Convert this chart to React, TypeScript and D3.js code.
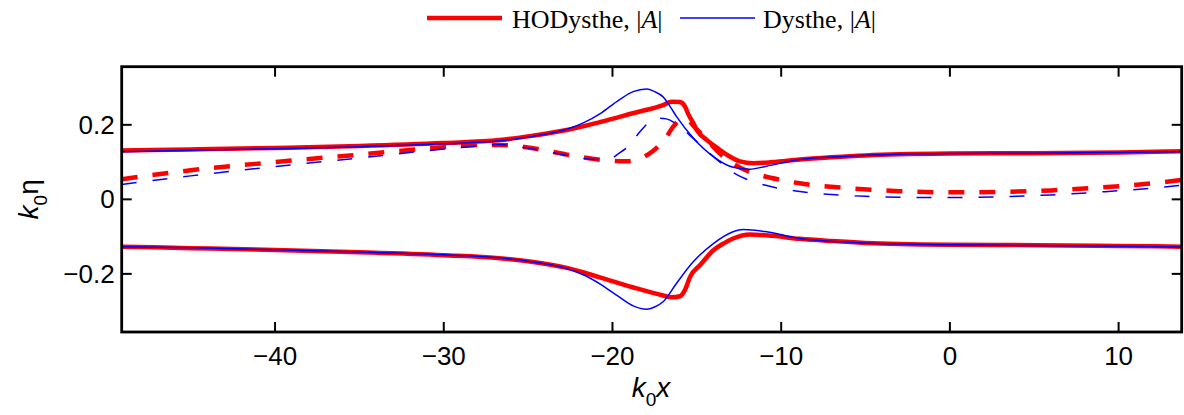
import React from 'react';
import * as d3 from 'd3';

// k0x positions and |A| envelopes
const hoUpperX = [-49.09, -45, -40, -35, -30, -26.7, -24.7, -22.7, -20.7, -18.8, -17.0, -16.5, -16.0, -15.7, -15.5, -15.2, -15.0, -14.4, -13.8, -13.2, -12.45, -11.66, -10.5, -8.9, -7, -5, -3, 0, 5, 10, 13.74];
const hoUpperY = [0.131, 0.134, 0.138, 0.143, 0.151, 0.159, 0.171, 0.186, 0.208, 0.231, 0.253, 0.262, 0.261, 0.249, 0.228, 0.204, 0.186, 0.159, 0.138, 0.119, 0.102, 0.097, 0.1, 0.107, 0.113, 0.118, 0.121, 0.123, 0.124, 0.126, 0.129];

const hoLowerX = [-49.09, -45, -40, -35, -30, -26.7, -24.7, -22.7, -20.7, -18.8, -17.0, -16.5, -16.0, -15.7, -15.4, -14.8, -14.0, -13.4, -12.85, -11.86, -10.5, -8.9, -7, -5, -3, 0, 5, 10, 13.74];
const hoLowerY = [-0.127, -0.131, -0.136, -0.142, -0.150, -0.158, -0.168, -0.184, -0.21, -0.236, -0.258, -0.263, -0.26, -0.243, -0.208, -0.176, -0.136, -0.118, -0.105, -0.094, -0.098, -0.106, -0.112, -0.117, -0.12, -0.122, -0.123, -0.125, -0.127];

const hoMeanX = [-49.09, -45, -40, -35, -30, -28, -26.7, -24.7, -22.7, -20.7, -19.2, -18.6, -17.6, -16.8, -16.4, -16.0, -15.6, -15.2, -14.5, -13.8, -13.0, -12.2, -11, -10, -8.9, -6, -3, 0, 3, 6, 9, 12, 13.74];
const hoMeanY = [0.054, 0.078, 0.1, 0.12, 0.14, 0.146, 0.146, 0.137, 0.12, 0.106, 0.102, 0.106, 0.13, 0.168, 0.195, 0.212, 0.215, 0.197, 0.165, 0.13, 0.1, 0.08, 0.062, 0.052, 0.043, 0.03, 0.022, 0.019, 0.02, 0.024, 0.032, 0.043, 0.052];

const dyUpperX = [-49.09, -45, -40, -35, -30, -26.7, -24.7, -22.7, -21.7, -20.7, -19.6, -18.77, -17.98, -17.5, -17.0, -16.6, -16.2, -15.2, -14.0, -12.85, -11.86, -10.87, -8.9, -6, -3, 0, 5, 10, 13.74];
const dyUpperY = [0.128, 0.132, 0.136, 0.141, 0.149, 0.157, 0.169, 0.188, 0.206, 0.231, 0.267, 0.289, 0.296, 0.289, 0.275, 0.25, 0.222, 0.164, 0.114, 0.086, 0.081, 0.089, 0.107, 0.116, 0.121, 0.123, 0.124, 0.126, 0.128];

const dyLowerX = [-49.09, -45, -40, -35, -30, -26.7, -24.7, -22.7, -21.7, -20.7, -19.6, -18.77, -17.98, -17.5, -17.0, -16.2, -15.2, -14.0, -12.85, -12.25, -10.87, -8.9, -6, -3, 0, 5, 10, 13.74];
const dyLowerY = [-0.127, -0.13, -0.135, -0.141, -0.149, -0.157, -0.168, -0.186, -0.203, -0.228, -0.262, -0.286, -0.295, -0.289, -0.275, -0.225, -0.167, -0.118, -0.087, -0.081, -0.087, -0.105, -0.115, -0.12, -0.122, -0.124, -0.126, -0.128];

const dyMeanX = [-49.09, -45, -40, -35, -30, -28, -26.7, -24.7, -22.7, -21, -20.2, -19.6, -19.0, -18.4, -17.8, -17.3, -16.8, -16.0, -15.2, -14.4, -13.5, -12.85, -12.05, -10.5, -8.9, -7, -5, -2, 0, 3, 6, 9, 12, 13.74];
const dyMeanY = [0.04, 0.063, 0.088, 0.111, 0.135, 0.143, 0.147, 0.135, 0.118, 0.107, 0.108, 0.124, 0.145, 0.18, 0.208, 0.218, 0.216, 0.195, 0.163, 0.13, 0.095, 0.072, 0.054, 0.033, 0.021, 0.013, 0.008, 0.005, 0.005, 0.007, 0.012, 0.02, 0.03, 0.038];

const xTicks = [-40, -30, -20, -10, 0, 10];
const yTicks = [-0.2, 0, 0.2];

const W = 1184;
const H = 415;
const left = 121.7, right = 1181.7, top = 66.7, bottom = 332;

const x = d3.scaleLinear().domain([-49.09, 13.74]).range([left, right]);
const y = d3.scaleLinear().domain([-0.356, 0.356]).range([bottom, top]);

const line = d3.line<[number, number]>()
  .x(d => x(d[0]))
  .y(d => y(d[1]))
  .curve(d3.curveMonotoneX);

const path = (xs: number[], ys: number[]) => line(xs.map((v, i) => [v, ys[i]] as [number, number])) || '';

const RED = '#ff0000';
const BLUE = '#0000ff';
const fmt = (v: number) => (v < 0 ? '\u2212' : '') + Math.abs(v).toString();

export default function App() {
  const tickLen = 10;
  return (
    <svg width={W} height={H} style={{ position: 'absolute', left: 0, top: 0, background: '#fff' }}
      fontFamily="'Liberation Sans', Arial, sans-serif">
      <defs>
        <clipPath id="plot">
          <rect x={left} y={top} width={right - left} height={bottom - top} />
        </clipPath>
      </defs>

      {/* legend */}
      <line x1={427} x2={502} y1={18} y2={18} stroke={RED} strokeWidth={4.5} />
      <text x={512} y={28} fontFamily="'Liberation Serif', 'Times New Roman', serif" fontSize={26}>
        HODysthe, |<tspan fontStyle="italic">A</tspan>|
      </text>
      <line x1={680} x2={755} y1={18} y2={18} stroke={BLUE} strokeWidth={1.5} />
      <text x={763} y={28} fontFamily="'Liberation Serif', 'Times New Roman', serif" fontSize={26}>
        Dysthe, |<tspan fontStyle="italic">A</tspan>|
      </text>

      <g clipPath="url(#plot)" fill="none" strokeLinejoin="round">
        <path d={path(hoUpperX, hoUpperY)} stroke={RED} strokeWidth={4.5} />
        <path d={path(hoLowerX, hoLowerY)} stroke={RED} strokeWidth={4.5} />
        <path d={path(hoMeanX, hoMeanY)} stroke={RED} strokeWidth={4.5} strokeDasharray="16 15" />
        <path d={path(dyUpperX, dyUpperY)} stroke={BLUE} strokeWidth={1.5} />
        <path d={path(dyLowerX, dyLowerY)} stroke={BLUE} strokeWidth={1.5} />
        <path d={path(dyMeanX, dyMeanY)} stroke={BLUE} strokeWidth={1.5} strokeDasharray="15 16" />
      </g>

      {/* ticks */}
      <g stroke="#000" strokeWidth={2}>
        {xTicks.map(t => (
          <g key={'x' + t}>
            <line x1={x(t)} x2={x(t)} y1={bottom} y2={bottom - tickLen} />
            <line x1={x(t)} x2={x(t)} y1={top} y2={top + tickLen} />
          </g>
        ))}
        {yTicks.map(t => (
          <g key={'y' + t}>
            <line x1={left} x2={left + tickLen} y1={y(t)} y2={y(t)} />
            <line x1={right} x2={right - tickLen} y1={y(t)} y2={y(t)} />
          </g>
        ))}
      </g>
      <rect x={left} y={top} width={right - left} height={bottom - top} fill="none" stroke="#000" strokeWidth={2.8} />

      {xTicks.map(t => (
        <text key={'xl' + t} x={x(t)} y={365} fontSize={26} textAnchor="middle">{fmt(t)}</text>
      ))}
      {yTicks.map(t => (
        <text key={'yl' + t} x={left - 7} y={y(t) + 9} fontSize={26} textAnchor="end">{fmt(t)}</text>
      ))}

      {/* axis labels */}
      <text x={651} y={397} fontSize={28} textAnchor="middle">
        <tspan fontStyle="italic">k</tspan>
        <tspan fontSize={19} dy={9}>0</tspan>
        <tspan fontStyle="italic" dy={-9}>x</tspan>
      </text>
      <text transform={`translate(38, ${y(0)}) rotate(-90)`} fontSize={28} textAnchor="middle">
        <tspan fontStyle="italic">k</tspan>
        <tspan fontSize={19} dy={9}>0</tspan>
        <tspan dy={-9}>η</tspan>
      </text>
    </svg>
  );
}
